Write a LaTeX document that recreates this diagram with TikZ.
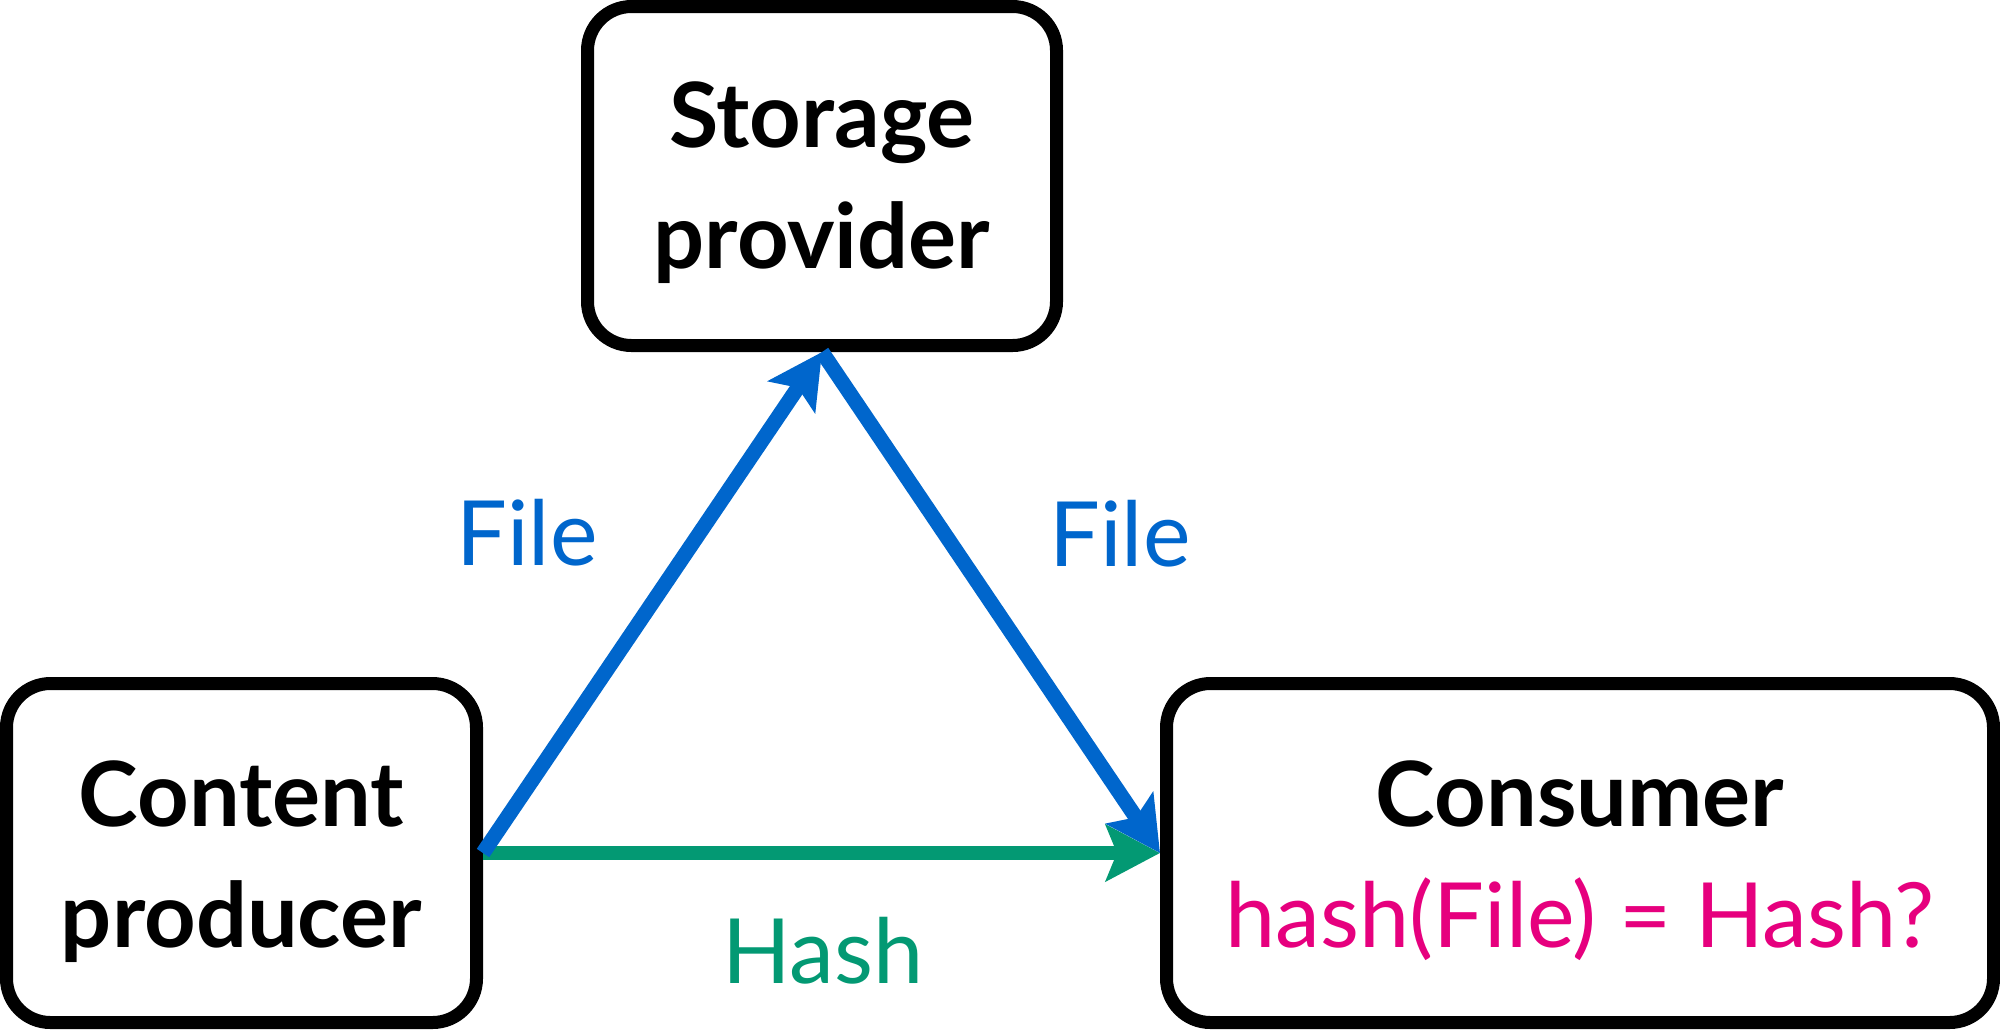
\documentclass[tikz,border=0pt]{standalone}
\usepackage{fontspec}
\setmainfont{Lato}
\usetikzlibrary{arrows.meta}
\definecolor{fileblue}{RGB}{0,102,204}
\definecolor{hashgreen}{RGB}{3,153,115}
\definecolor{checkpink}{RGB}{230,0,126}
\begin{document}
\begin{tikzpicture}[x=0.5pt,y=-0.5pt,
  box/.style={draw=black, line width=6.5pt, rounded corners=22pt, inner sep=0pt,
    minimum height=169.5pt},
  title/.style={font=\fontsize{45}{54}\selectfont\bfseries, anchor=base, inner sep=0pt},
  plain/.style={font=\fontsize{45}{54}\selectfont, anchor=base, inner sep=0pt},
  flow/.style={-{Stealth[length=27pt,width=28pt,inset=5.5pt]}},
  fileflow/.style={flow, line width=7.5pt, draw=fileblue, fill=fileblue},
  hashflow/.style={flow, line width=7pt, draw=hashgreen, fill=hashgreen},
]
\useasboundingbox (0,0) rectangle (2000,1030);

% parties
\node[box, minimum width=234.5pt] (sp) at (822,176) {};
\node[box, minimum width=235pt] (cp) at (241.5,853) {};
\node[box, minimum width=413.5pt] (cons) at (1580,853) {};

\node[title] (sp1) at (822,147) {Storage};
\node[title] (sp2) at (822,268) {provider};
\node[title] (cp1) at (241.5,826) {Content};
\node[title] (cp2) at (241.5,947) {producer};
\node[title] (cons1) at (1580,826) {Consumer};
\node[plain, text=checkpink] (check) at (1580,947) {hash(File) = Hash?};

% transfers
\draw[hashflow] (cp.east) -- (cons.west);
\draw[fileflow] (cp.east) -- (sp.south);
\draw[fileflow] (sp.south) -- (cons.west);

\node[plain, text=fileblue] (upload) at (527,565) {File};
\node[plain, text=fileblue] (download) at (1120,566) {File};
\node[plain, text=hashgreen] (hashlabel) at (823,983) {Hash};
\end{tikzpicture}
\end{document}
